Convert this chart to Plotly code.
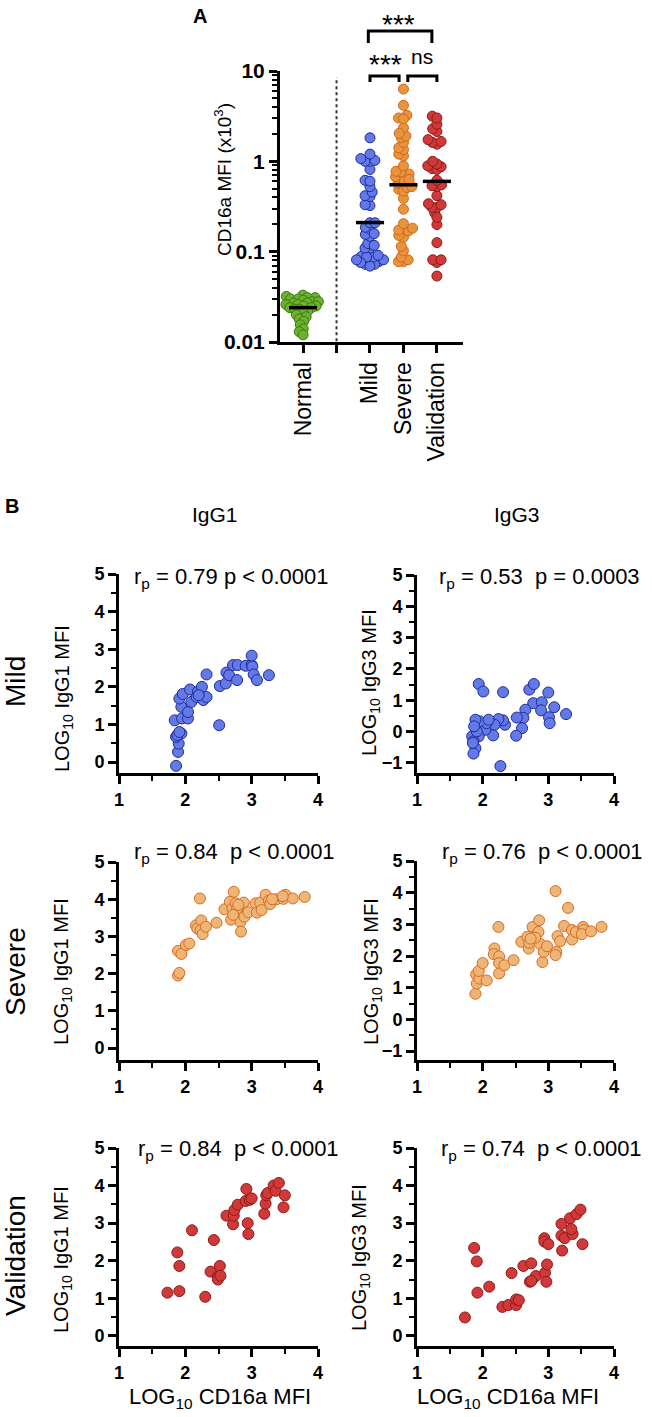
import numpy as np
import plotly.graph_objects as go

W, H = 652, 1417
FONT = "Liberation Sans, Arial, sans-serif"

# ---------------- data ----------------
# panel B: LOG10 CD16a MFI (x) vs LOG10 IgG MFI (y)
mild_g1_x = [1.86, 1.89, 1.90, 1.86, 1.94, 1.84, 1.95, 2.04, 1.94, 2.04, 1.91, 1.96, 2.09,
             2.07, 2.17, 2.19, 2.25, 2.27, 2.32, 2.32, 2.51, 2.52, 2.61, 2.62, 2.66, 2.72,
             2.79, 2.78, 2.91, 3.00, 3.00, 3.01, 3.03, 3.08, 3.26, 1.88, 2.20, 1.91]
mild_g1_y = [-0.10, 0.27, 0.49, 0.67, 0.76, 1.11, 1.16, 1.16, 1.47, 1.33, 1.69, 1.81, 1.60,
             1.93, 1.73, 1.87, 2.00, 1.65, 1.73, 2.33, 0.98, 2.02, 2.09, 2.38, 2.31, 2.58,
             2.58, 2.18, 2.56, 2.58, 2.83, 2.54, 2.33, 2.18, 2.31, 0.72, 1.78, 0.80]

mild_g3_x = [1.94, 2.01, 2.31, 2.71, 2.78, 2.77, 2.90, 2.89, 3.00, 3.09, 3.27, 3.01, 3.02,
             2.65, 2.62, 2.52, 2.60, 2.51, 2.34, 2.31, 2.24, 2.18, 2.16, 2.27, 2.04, 2.06,
             1.95, 1.89, 1.94, 1.84, 1.86, 1.89, 1.86, 1.91, 1.85, 2.09, 1.87]
mild_g3_y = [1.52, 1.28, 1.26, 1.34, 1.52, 0.91, 0.94, 0.68, 1.25, 0.78, 0.56, 0.46, 0.27,
             0.70, 0.44, 0.45, 0.11, -0.13, 0.22, 0.36, 0.40, 0.22, -0.12, -1.10, 0.06, 0.27,
             0.33, 0.38, -0.15, -0.15, -0.31, -0.53, -0.70, 0.01, -0.36, 0.38, 0.17]

severe_g1_x = [1.89, 1.91, 1.89, 1.94, 2.01, 2.06, 2.22, 2.16, 2.18, 2.24, 2.23, 2.26, 2.31,
               2.47, 2.59, 2.69, 2.73, 2.67, 2.71, 2.76, 2.81, 2.83, 2.84, 2.86, 2.88, 2.89,
               2.95, 3.06, 3.08, 3.13, 3.15, 3.21, 3.26, 3.28, 3.37, 3.48, 3.51, 3.62, 3.80,
               3.47, 3.31, 2.78, 2.72, 2.80]
severe_g1_y = [1.95, 2.02, 2.61, 2.53, 2.77, 2.81, 4.02, 3.30, 3.21, 3.43, 3.17, 3.06, 3.26,
               3.37, 3.73, 3.45, 4.20, 3.93, 3.75, 3.89, 3.62, 3.39, 3.13, 3.82, 3.91, 3.53,
               3.65, 3.89, 3.64, 3.91, 3.71, 4.12, 3.96, 3.87, 4.00, 4.01, 4.12, 4.02, 4.06,
               4.08, 4.00, 3.75, 3.58, 3.85]

severe_g3_x = [1.89, 1.91, 1.90, 1.95, 1.94, 2.00, 2.06, 2.18, 2.17, 2.24, 2.25, 2.25, 2.25,
               2.33, 2.47, 2.59, 2.68, 2.70, 2.71, 2.76, 2.78, 2.86, 2.85, 2.87, 2.91, 2.93,
               2.98, 3.11, 3.12, 3.11, 3.14, 3.18, 3.24, 3.30, 3.36, 3.36, 3.42, 3.53, 3.54,
               3.51, 3.65, 3.81, 2.80, 2.73]
severe_g3_y = [0.81, 1.13, 1.42, 1.29, 1.53, 1.78, 1.23, 2.24, 2.06, 2.92, 1.99, 1.78, 1.45,
               1.71, 1.87, 2.45, 2.61, 2.24, 2.42, 2.92, 2.61, 3.13, 2.76, 2.39, 1.81, 2.13,
               2.31, 4.05, 2.13, 2.03, 2.63, 2.47, 2.95, 3.52, 2.82, 2.52, 2.76, 2.92, 2.82,
               2.69, 2.78, 2.92, 2.58, 2.55]

valid_g1_x = [1.73, 1.88, 1.91, 1.91, 2.10, 2.30, 2.43, 2.38, 2.49, 2.49, 2.52, 2.53, 2.62,
              2.72, 2.73, 2.74, 2.79, 2.92, 2.91, 2.94, 2.95, 2.97, 3.00, 3.19, 3.21, 3.22,
              3.24, 3.33, 3.36, 3.41, 3.50, 3.48]
valid_g1_y = [1.15, 2.22, 1.86, 1.19, 2.81, 1.04, 2.55, 1.71, 1.57, 1.50, 1.86, 1.60, 3.20,
              2.97, 3.20, 3.35, 3.49, 3.91, 3.59, 3.00, 2.71, 3.62, 3.66, 3.25, 3.52, 3.74,
              3.80, 4.00, 3.86, 4.07, 3.74, 3.42]

valid_g3_x = [1.73, 1.87, 1.91, 1.92, 2.10, 2.30, 2.39, 2.44, 2.51, 2.51, 2.55, 2.62, 2.74,
              2.72, 2.81, 2.94, 2.94, 2.95, 2.97, 2.98, 3.00, 3.20, 3.20, 3.21, 3.25, 3.33,
              3.37, 3.35, 3.43, 3.49, 3.52, 2.74]
valid_g3_y = [0.49, 2.34, 1.98, 1.15, 1.31, 0.77, 0.82, 1.67, 0.82, 0.97, 0.95, 1.86, 1.93,
              1.44, 1.59, 2.60, 2.51, 1.68, 1.44, 1.90, 2.44, 2.98, 2.67, 2.27, 2.60, 3.13,
              2.71, 2.84, 3.24, 3.36, 2.44, 1.46]

# panel A: CD16a MFI (x10^3); patient groups are the same samples as panel B
normal_mfi = [0.033, 0.032, 0.031, 0.031, 0.030, 0.030, 0.029, 0.028, 0.028, 0.027, 0.027,
              0.026, 0.026, 0.025, 0.025, 0.024, 0.024, 0.023, 0.023, 0.022, 0.021, 0.020,
              0.019, 0.018, 0.017, 0.0155, 0.014, 0.013, 0.012]
mild_mfi = [10 ** (v - 3) for v in mild_g1_x]
severe_mfi = [10 ** (v - 3) for v in severe_g1_x]
valid_mfi = [10 ** (v - 3) for v in valid_g1_x]

groups = ["Normal", "", "Mild", "Severe", "Validation"]
group_medians = [0.024, 0.21, 0.55, 0.60]

BLUE = ("#6479E8", "#1F2C99")
ORANGE_A = ("#E8943C", "#D0681C")
ORANGE_B = ("#EDB676", "#DB6A22")
RED = ("#D13838", "#8E1B1B")
GREEN = ("#6CB22E", "#3C7A12")


def px(x):
    return x / W


def py(y):
    return 1 - y / H


def swarm(vals, center, diam, px_unit, px_decade):
    ys = np.log10(vals) * px_decade
    placed = []
    offs = np.zeros(len(vals))
    for i in np.argsort(ys):
        y = ys[i]
        near = [(xo, yo) for xo, yo in placed if abs(yo - y) < diam]
        cands = [0.0]
        for xo, yo in near:
            dx = np.sqrt(diam ** 2 - (yo - y) ** 2)
            cands += [xo - dx, xo + dx]
        for c in sorted(cands, key=abs):
            if all((c - xo) ** 2 + (y - yo) ** 2 >= diam ** 2 - 1e-6 for xo, yo in near):
                break
        offs[i] = c
        placed.append((c, y))
    return center + offs / px_unit


fig = go.Figure()

# ---------------- panel A ----------------
A_PX_UNIT, A_PX_DEC = 33.5, 90.3
for pos, vals, col in [(0, normal_mfi, GREEN), (2, mild_mfi, BLUE),
                       (3, severe_mfi, ORANGE_A), (4, valid_mfi, RED)]:
    fig.add_trace(go.Scatter(
        x=swarm(vals, pos, 5.0, A_PX_UNIT, A_PX_DEC), y=vals, mode="markers",
        marker=dict(size=10, color=col[0], line=dict(color=col[1], width=1)),
        xaxis="x", yaxis="y", showlegend=False))

for pos, m in zip([0, 2, 3, 4], group_medians):
    fig.add_trace(go.Scatter(x=[pos - 0.42, pos + 0.42], y=[m, m], mode="lines",
                             line=dict(color="black", width=3.5),
                             xaxis="x", yaxis="y", showlegend=False))

fig.add_trace(go.Scatter(x=[1, 1], y=[0.0102, 8.6], mode="lines",
                         line=dict(color="#333", width=2, dash="dot"),
                         xaxis="x", yaxis="y", showlegend=False))

# ---------------- panel B ----------------
panels = [
    (mild_g1_x, mild_g1_y, BLUE, 2),
    (mild_g3_x, mild_g3_y, BLUE, 3),
    (severe_g1_x, severe_g1_y, ORANGE_B, 4),
    (severe_g3_x, severe_g3_y, ORANGE_B, 5),
    (valid_g1_x, valid_g1_y, RED, 6),
    (valid_g3_x, valid_g3_y, RED, 7),
]
for xs, ys, col, k in panels:
    fig.add_trace(go.Scatter(
        x=xs, y=ys, mode="markers",
        marker=dict(size=11, color=col[0], line=dict(color=col[1], width=1)),
        xaxis=f"x{k}", yaxis=f"y{k}", showlegend=False))

axis_common = dict(showline=True, linecolor="black", linewidth=3, ticks="outside",
                   tickcolor="black", tickwidth=3, ticklen=8, showgrid=False,
                   zeroline=False, mirror=False, automargin=False)

layout = dict(
    width=W, height=H, margin=dict(l=0, r=0, t=0, b=0),
    paper_bgcolor="white", plot_bgcolor="white",
    font=dict(family=FONT, color="black"),
    xaxis=dict(axis_common, domain=[px(280), px(463)], range=[-0.69, 4.78], anchor="y",
               tickmode="array", tickvals=[0, 1, 2, 3, 4], ticktext=groups,
               tickangle=-90, tickfont=dict(size=23, family=FONT)),
    yaxis=dict(axis_common, domain=[py(342), py(71)], type="log", range=[-2, 1],
               anchor="x", tickmode="array", tickvals=[0.01, 0.1, 1, 10],
               ticktext=["0.01", "0.1", "1", "10"],
               tickfont=dict(size=21, family=FONT, weight="bold"),
               minor=dict(ticks="outside", ticklen=5, tickwidth=1.5, tickcolor="black",
                          tickmode="array",
                          tickvals=[k * 10.0 ** e for e in (-2, -1, 0) for k in range(2, 10)])),
)

col_x = {0: [px(119), px(318)], 1: [px(417), px(614)]}
rows = [  # (top px of y=5, bottom px, ymin of range) for left, right
    [(574, 773, -0.29), (575, 773, -1.32)],
    [(862, 1060, -0.32), (861, 1060, -1.28)],
    [(1148, 1346, -0.27), (1148, 1346, -0.27)],
]
k = 2
for r in range(3):
    for c in range(2):
        top, bot, ymin = rows[r][c]
        layout[f"xaxis{k}"] = dict(axis_common, domain=col_x[c], range=[1, 4],
                                   anchor=f"y{k}", tickmode="linear", tick0=1, dtick=1,
                                   tickfont=dict(size=18, family=FONT, weight="bold"),
                                   minor=dict(ticks="outside", ticklen=5, tickwidth=2,
                                              tickcolor="black", dtick=0.5, tick0=1))
        layout[f"yaxis{k}"] = dict(axis_common, domain=[py(bot), py(top)], range=[ymin, 5],
                                   anchor=f"x{k}", tickmode="linear", tick0=0, dtick=1,
                                   tickfont=dict(size=18, family=FONT, weight="bold"),
                                   minor=dict(ticks="outside", ticklen=5, tickwidth=2,
                                              tickcolor="black", dtick=0.5, tick0=0))
        k += 1

fig.update_layout(**layout)

# ---------------- text ----------------
ann = []


def text(x, y, s, size, angle=0, bold=False, xanchor="center", yanchor="middle"):
    ann.append(dict(x=px(x), y=py(y), xref="paper", yref="paper", text=s, showarrow=False,
                    textangle=angle, xanchor=xanchor, yanchor=yanchor,
                    font=dict(size=size, family=FONT, color="black",
                              weight="bold" if bold else "normal")))


text(200, 16, "A", 20, bold=True)
text(12, 506, "B", 20, bold=True)
text(223, 180, "CD16a MFI (x10<sup>3</sup>)", 19, angle=-90)

# significance
text(398, 24, "***", 28)
text(385, 64, "***", 28)
text(422, 57, "ns", 21)

text(215, 514, "IgG1", 21)
text(517, 514, "IgG3", 21)

text(15, 682, "Mild", 28, angle=-90)
text(15, 972, "Severe", 28, angle=-90)
text(15, 1256, "Validation", 28, angle=-90)

ylab = [(63, 699, "IgG1"), (370, 683, "IgG3"), (62, 972, "IgG1"), (372, 972, "IgG3"),
        (62, 1260, "IgG1"), (360, 1258, "IgG3")]
for x, y, g in ylab:
    text(x, y, f"LOG<sub>10</sub> {g} MFI", 20, angle=-90)

for x in (220, 508):
    text(x, 1398, "LOG<sub>10</sub> CD16a MFI", 22)

NB = "\u00a0"
stats = [(231, 578, "0.79", "p < 0.0001", ""), (539, 578, "0.53", "p = 0.0003", NB),
         (234, 853, "0.84", "p < 0.0001", NB), (542, 853, "0.76", "p < 0.0001", NB),
         (238, 1150, "0.84", "p < 0.0001", NB), (541, 1150, "0.74", "p < 0.0001", NB)]
for x, y, r, p, gap in stats:
    text(x, y, f"r<sub>p</sub> = {r} {gap}{p.replace('<', '&lt;')}", 22)

fig.update_layout(annotations=ann)

# brackets above panel A
shapes = []
LW = 3


def bracket(x0, x1, ytop, ybot):
    path = f"M {x0},{py(ybot)} L {x0},{py(ytop)} L {x1},{py(ytop)} L {x1},{py(ybot)}"
    shapes.append(dict(type="path", path=path, xref="x", yref="paper",
                       line=dict(color="black", width=LW)))


bracket(1.95, 3.85, 31, 43)
bracket(2.0, 2.87, 76, 82)
bracket(3.13, 4.0, 76, 82)
fig.update_layout(shapes=shapes)

# the page body has a default 8px margin; drop it so the figure sits at 0,0
fig.write_html("out.html", config={"displayModeBar": False},
               post_script="document.body.style.margin='0px';")
